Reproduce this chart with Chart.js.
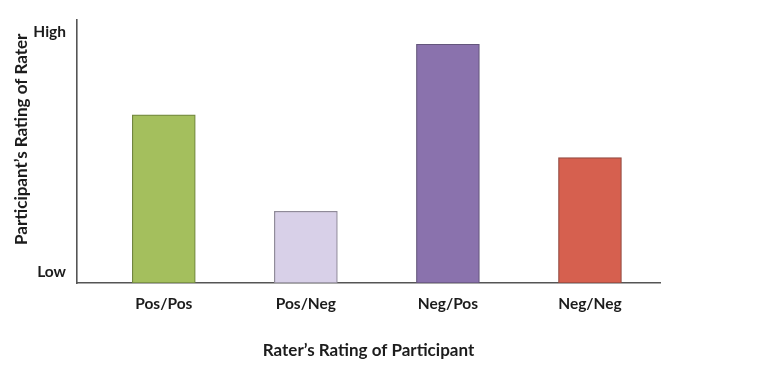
<!DOCTYPE html>
<html>
<head>
<meta charset="utf-8">
<script src="https://cdn.jsdelivr.net/npm/chart.js@4.4.1/dist/chart.umd.min.js"></script>
<style>
  html, body { margin: 0; padding: 0; background: #fff; }
  #wrap { width: 758px; height: 379px; }
</style>
</head>
<body>
<div id="wrap"><canvas id="barChart" width="758" height="379"></canvas></div>
<script>
// categories and bar heights (0 = Low end of axis, 100 = top of axis)
const categories = ['Pos/Pos', 'Pos/Neg', 'Neg/Pos', 'Neg/Neg'];
const ratings = [64, 27.3, 90.9, 47.7];

// y axis only shows two labels
const yTickValues = [4, 95.5];
const yTickLabels = ['Low', 'High'];

const barColors = ['#a4bf5d', '#d8d0e8', '#8a72ad', '#d6604f'];
const barBorders = ['#71863f', '#8f8a98', '#64567c', '#944a40'];

const textColor = '#1c1c1c';
const axisColor = '#555555';

const ctx = document.getElementById('barChart').getContext('2d');
const myBarChart = new Chart(ctx, {
    type: 'bar',
    data: {
        datasets: [{
            data: categories.map((c, i) => ({ x: i, y: ratings[i] })),
            backgroundColor: barColors,
            borderColor: barBorders,
            borderWidth: 1.2,
            borderSkipped: false,
            barThickness: 63
        }]
    },
    options: {
        responsive: false,
        animation: false,
        layout: { padding: { left: 8, right: 98, top: 19, bottom: 10 } },
        plugins: {
            legend: { display: false },
            tooltip: { enabled: false }
        },
        scales: {
            x: {
                type: 'linear',
                offset: false,
                min: -0.611,
                max: 3.493,
                grid: { display: false, drawTicks: false },
                border: { display: true, color: axisColor, width: 1.6 },
                afterBuildTicks: scale => {
                    scale.ticks = categories.map((c, i) => ({ value: i }));
                },
                afterFit: scale => { scale.height = 86; },
                ticks: {
                    autoSkip: false,
                    maxRotation: 0,
                    padding: 12,
                    color: textColor,
                    font: { family: 'Lato', size: 15.5, weight: 'bold' },
                    callback: (value, index) => categories[index]
                },
                title: {
                    display: true,
                    text: 'Rater\u2019s Rating of Participant',
                    color: textColor,
                    padding: { top: 0, bottom: 8 },
                    font: { family: 'Lato', size: 17, weight: 'bold' }
                }
            },
            y: {
                min: 0,
                max: 100,
                grid: { display: false, drawTicks: false },
                border: { display: true, color: axisColor, width: 1.6 },
                afterBuildTicks: scale => {
                    scale.ticks = yTickValues.map(v => ({ value: v }));
                },
                afterFit: scale => { scale.width = 69; },
                ticks: {
                    padding: 11,
                    color: textColor,
                    font: { family: 'Lato', size: 15.5, weight: 'bold' },
                    callback: (value, index) => yTickLabels[index]
                },
                title: {
                    display: true,
                    // leading spaces nudge the rotated title up a little, like the original
                    text: '      Participant\u2019s Rating of Rater',
                    color: textColor,
                    padding: { top: 3, bottom: 0 },
                    font: { family: 'Lato', size: 17, weight: 'bold' }
                }
            }
        }
    }
});
</script>
</body>
</html>
